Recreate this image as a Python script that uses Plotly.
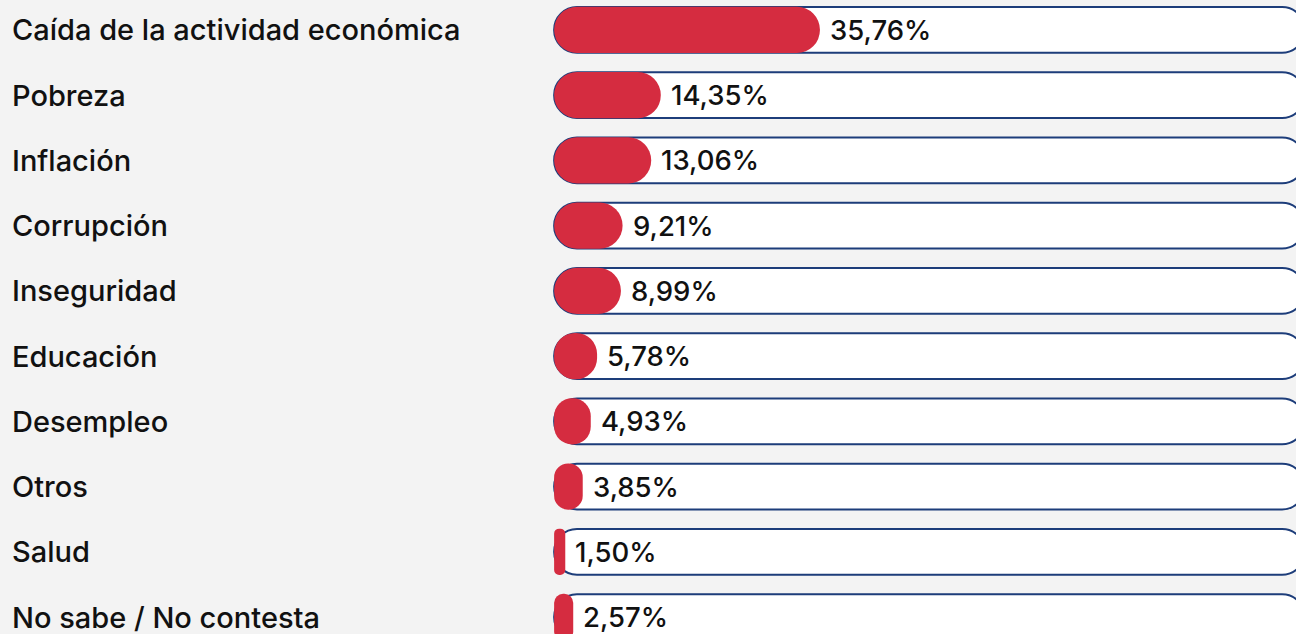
import plotly.graph_objects as go

categories = [
    "Caída de la actividad económica",
    "Pobreza",
    "Inflación",
    "Corrupción",
    "Inseguridad",
    "Educación",
    "Desempleo",
    "Otros",
    "Salud",
    "No sabe / No contesta",
]
values = [35.76, 14.35, 13.06, 9.21, 8.99, 5.78, 4.93, 3.85, 1.50, 2.57]
value_labels = ["35,76%", "14,35%", "13,06%", "9,21%", "8,99%",
                "5,78%", "4,93%", "3,85%", "1,50%", "2,57%"]
track_total = [101] * len(categories)
bar_base = [0] * len(categories)

W, H = 1296, 634
LEFT = 553
ROW_PX = 65.33
BG = "#f3f3f3"
RED = "#d52c40"
NAVY = "#1d3d7a"
FONT = "Inter"
BAR_W = 0.70

fig = go.Figure()
fig.add_trace(go.Bar(
    y=categories, x=track_total, base=bar_base, orientation="h",
    marker=dict(color="white", line=dict(color=NAVY, width=2), cornerradius="50%"),
    width=BAR_W, hoverinfo="skip", showlegend=False,
))
fig.add_trace(go.Bar(
    y=categories, x=values, base=bar_base, orientation="h",
    marker=dict(color=RED, line=dict(width=0), cornerradius="50%"),
    width=BAR_W + 0.01, showlegend=False,
))

annotations = []
for cat, v, lab in zip(categories, values, value_labels):
    annotations.append(dict(
        x=v, y=cat, xref="x", yref="y", text=lab, showarrow=False,
        xanchor="left", yanchor="middle", xshift=8,
        font=dict(family=FONT, size=27.5, color="#111111", weight=500),
    ))
    annotations.append(dict(
        x=-(LEFT - 10) / (W - LEFT), y=cat, xref="paper", yref="y", text=cat,
        showarrow=False, xanchor="left", yanchor="middle",
        font=dict(family=FONT, size=29, color="#111111", weight=500),
    ))

n = len(categories)
fig.update_layout(
    width=W, height=H,
    margin=dict(l=LEFT, r=0, t=0, b=0),
    paper_bgcolor=BG, plot_bgcolor=BG,
    barmode="overlay",
    xaxis=dict(range=[-0.15, 99.8], visible=False, fixedrange=True),
    yaxis=dict(range=[n - 1 + 17 / ROW_PX, -30 / ROW_PX], visible=False,
               categoryorder="array", categoryarray=categories, fixedrange=True),
    annotations=annotations,
)

fig.write_html(
    "out.html",
    config={"displayModeBar": False},
    post_script="document.body.style.margin='0';document.body.style.background='%s';" % BG,
)
